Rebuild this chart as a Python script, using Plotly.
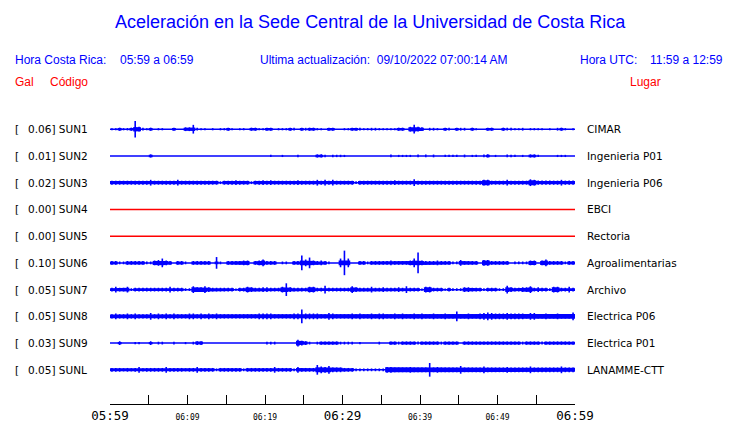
import plotly.graph_objects as go

# ---------------- data ----------------
stations = ["SUN1", "SUN2", "SUN3", "SUN4", "SUN5", "SUN6", "SUN7", "SUN8", "SUN9", "SUNL"]
peak_gal = ["0.06", "0.01", "0.02", "0.00", "0.00", "0.10", "0.05", "0.05", "0.03", "0.05"]
places = ["CIMAR", "Ingenieria P01", "Ingenieria P06", "EBCI", "Rectoria",
          "Agroalimentarias", "Archivo", "Electrica P06", "Electrica P01", "LANAMME-CTT"]
tick_minutes = [0, 10, 20, 30, 40, 50, 60]
tick_labels = ["05:59", "06:09", "06:19", "06:29", "06:39", "06:49", "06:59"]
minor_minutes = [5, 15, 25, 35, 45, 55]

# envelope (half amplitude, relative units) every 30 s, 05:59 -> 06:59
env_sun1 = [0.7, 0.7, 1.2, 0.7, 0.8, 1.2, 8, 2, 1, 0.7, 1.2, 0, 0.7, 0.7, 0, 0, 1.2, 0, 0, 1.5,
            1.5, 4, 1, 0.7, 0.7, 0, 0.7, 0, 0.7, 0.7, 1.2, 0.7, 0, 0.7, 0.7, 0, 1.2, 1.2, 0.7, 0.7,
            1.2, 1.2, 0, 0.7, 0.7, 0.7, 1.2, 1, 0, 1.2, 1, 1.2, 1.2, 0.7, 0.7, 0, 1.2, 1.2, 0, 0,
            0.7, 0.7, 1.2, 1.2, 1, 0.7, 0.7, 1, 1, 0.7, 0.7, 0.7, 0.7, 0.7, 1.2, 1.2, 0, 2, 4, 2,
            1.5, 0, 1, 1, 0.7, 0, 1.2, 1, 0, 1.2, 1, 1, 0, 1.2, 0.7, 0, 0, 1.2, 1.2, 0,
            0, 1.2, 1, 1, 0.7, 0.7, 1, 0, 0.7, 0.7, 0.7, 0.7, 0, 0.7, 0, 1, 1.2, 0.7, 0, 0.7]
env_sun2 = [0, 0, 0, 0, 0, 0, 0, 0, 0, 0, 1.2, 0, 0, 0, 0, 0, 0, 0, 0, 0,
            0, 0, 0, 0, 0, 0, 0, 0, 0, 0, 0, 0, 0, 0, 0, 0, 0, 0, 0, 0,
            0, 0.7, 0, 0, 0.7, 0, 0, 0, 0.8, 0, 0, 0, 0, 1.2, 1.2, 0.8, 0, 0.8, 0.8, 0.8,
            0.7, 0, 0, 0, 0, 0, 0, 0, 0, 0, 0, 0, 1, 0, 0.7, 0.7, 0.7, 0.7, 0, 1,
            0, 1, 0, 1, 0, 0, 0.7, 0.7, 0.7, 0.7, 0, 1, 0, 0.7, 0.7, 0, 1, 1.2, 0, 0.7,
            0, 0, 1, 0.8, 0.7, 0, 0.7, 0, 1.2, 1.2, 0.7, 0, 0, 0, 0, 0.7, 0.7, 0.7, 0, 0]
env_sun3 = [1.6, 1.6, 1.6, 1.6, 1.6, 1.6, 1.6, 1.6, 1.6, 1.6, 2.5, 1.6, 1.6, 1.6, 1.6, 1.6, 1.6, 2.5, 1.6, 1.6,
            1.6, 1.6, 1.6, 1.6, 1.6, 1.6, 1.6, 1.6, 1.0, 1.6, 1.6, 1.6, 2, 1.6, 1.6, 1.6, 1.0, 1.6, 1.6, 2,
            1.6, 2, 1.6, 1.6, 1.6, 1.6, 1.6, 1.6, 2, 1.6, 1.6, 1.6, 1.6, 2.5, 1.6, 2.5, 1.6, 2.5, 1.6, 1.6,
            1.6, 1.6, 1.6, 1.0, 1.6, 1.6, 1.6, 1.6, 1.6, 1.6, 1.6, 1.6, 1.6, 2, 1.6, 1.6, 1.6, 1.6, 3, 1.6,
            1.6, 1.6, 1.6, 1.6, 1.6, 1.6, 1.6, 1.6, 1.6, 1.6, 1.6, 1.6, 1.6, 1.6, 1.6, 1.6, 2.5, 2.5, 1.6, 1.6,
            1.6, 1.6, 2.5, 1.6, 1.6, 1.6, 1.6, 1.6, 3, 2.5, 1.7, 1.7, 1.7, 1.7, 1.7, 1.7, 2.5, 1.7, 1.7, 1.7]
env_sun4 = [0] * 120
env_sun5 = [0] * 120
env_sun6 = [1.5, 1.5, 1, 1, 1.5, 1.5, 1.5, 1.5, 1.5, 1, 1, 2, 2.5, 4, 2, 1.5, 0, 1.5, 1.5, 1,
            0, 1.5, 1.5, 1.5, 1.5, 1.5, 0, 5.5, 1, 0, 1.5, 1.5, 1.5, 1.5, 2, 2, 0, 1.5, 2, 3,
            1.5, 1.5, 1.5, 0, 1, 1, 0, 1.5, 1.5, 7, 3, 5, 2, 1.5, 2, 1.5, 1, 0, 0, 4,
            12, 4, 0, 0, 1.5, 1.5, 1, 1.5, 1.5, 1.5, 1.5, 1.5, 2, 1.5, 1.5, 1.5, 1.5, 2, 4, 10,
            2, 1.5, 1.5, 1.5, 2, 1.5, 1.5, 1.5, 1, 1, 2.5, 1.5, 1.5, 1.5, 1.5, 0, 2.5, 2.5, 1.5, 1.5,
            1.5, 1.5, 1.5, 0, 1, 1, 1, 1, 2, 2, 0, 2, 3, 1.5, 1.5, 1.5, 1.5, 1, 1.5, 1.5]
env_sun7 = [1.5, 2.5, 1.5, 1.5, 2.5, 1, 1.5, 1.5, 1.5, 1.5, 1.5, 1.5, 1.5, 1.5, 1.5, 2.5, 1.5, 1.5, 1.5, 1,
            1, 3, 2, 2, 3, 2, 1.5, 1.5, 1.5, 1.5, 1.5, 1.5, 0.7, 1.5, 1.5, 2.5, 2, 1.5, 1.5, 2,
            2, 1.5, 1.5, 1.5, 2.5, 6, 2, 1.5, 1.5, 1.5, 1.5, 2.5, 2.5, 1.5, 1.5, 3.5, 1.5, 1.5, 1.5, 1.5,
            1.5, 1.5, 3, 2, 1.5, 1.5, 1.5, 2.5, 1.5, 1.5, 2, 1.5, 1.5, 1.5, 2, 1.5, 3, 1.5, 1.5, 1.5,
            0.7, 2.5, 2.5, 1.5, 1.5, 1.5, 0.7, 1.5, 1, 1, 1, 2, 2, 1.5, 1.5, 1.5, 1, 1.5, 1.5, 1.5,
            1, 1, 3.5, 2, 1.5, 1.5, 2, 2, 3, 1.5, 2, 1.5, 1.5, 1, 2.5, 2.5, 1.5, 1.5, 2.5, 1.5]
env_sun8 = [1.8, 2.5, 1.8, 1.8, 2.5, 1.8, 2.5, 1.8, 1.8, 1.8, 3, 1.8, 2.5, 1.8, 2.5, 1.8, 2.5, 1.8, 1.8, 1.8,
            2.5, 2.5, 1.8, 2.5, 1.8, 2.5, 1.8, 2.5, 1.8, 1.8, 1.8, 1.8, 1.8, 1.8, 1.8, 1.8, 1.8, 1.8, 2.5, 2.5,
            2.5, 2.5, 1.8, 1.8, 1.8, 1.8, 1.8, 2.5, 2.5, 6.5, 2.5, 2.5, 2.5, 2.5, 1.8, 1.8, 3, 2.5, 1.8, 1.8,
            1.8, 1.8, 2.5, 1.8, 2.5, 1.8, 1.8, 2.5, 1.8, 2.5, 2.5, 1.8, 1.8, 2.5, 1.8, 2.5, 1.8, 1.8, 2.5, 1.8,
            2.5, 1.8, 1.8, 2.5, 1.8, 1.8, 2.5, 1.8, 1.8, 4.5, 1.8, 1.8, 2.5, 1.8, 1.8, 2.5, 3, 3.5, 3, 2.5,
            2.5, 2.5, 3, 2.5, 2.5, 2.5, 2.5, 1.8, 3, 3, 1.8, 1.8, 2.5, 1.8, 1.8, 2.5, 1.8, 1.8, 1.8, 3.5]
env_sun9 = [0, 0, 1.5, 0, 0, 0, 0.7, 0.7, 0, 0, 1.5, 0, 1, 1, 0, 0, 1, 0, 0, 0.7,
            0, 1, 1.5, 1.5, 0, 0, 0, 0, 0, 0, 0, 0, 0, 0, 0, 0, 0, 0, 0, 0,
            1, 1, 1, 0, 0, 0, 0, 0, 3, 2, 1.5, 1, 0, 1, 1.3, 1.3, 1.3, 1.3, 1.3, 1,
            1, 1, 1, 0, 0.7, 0, 0, 0, 0, 1, 0, 0, 1.3, 1.3, 1.1, 1.3, 1.3, 1.3, 1.3, 1.1,
            1.3, 1.3, 1.3, 1.3, 1.3, 1.1, 1.3, 1.3, 1.3, 1.3, 0, 1.3, 1.3, 1.3, 1.3, 1.3, 1.3, 1.3, 1.3, 1.3,
            1.3, 1.3, 1.3, 1.3, 1.3, 1.3, 1.1, 1.3, 1.3, 1.3, 1.3, 1.1, 1.3, 1.3, 1.3, 1.3, 1.3, 1.3, 1.3, 1.3]
env_sunl = [1.5, 1.5, 1.5, 1.2, 1.5, 1.2, 1.5, 2.5, 1.2, 1.5, 1.5, 1.5, 1.5, 1.5, 2.5, 1.5, 1.5, 1.5, 1.5, 1.2,
            1.5, 1.5, 2.5, 1.5, 1.5, 1.5, 1.5, 1, 1.5, 1.5, 1.5, 1.5, 1.5, 1.5, 1, 1.5, 1.5, 1.5, 1.5, 1.5,
            1.5, 1.5, 2.5, 1.5, 1.5, 1.5, 1.5, 1, 2.5, 1.5, 1.5, 1.5, 1.5, 4.5, 3, 2.5, 3.5, 2, 2, 2,
            1.5, 1.5, 1.5, 1, 1, 1, 1, 1, 1, 1, 1, 2.5, 2.5, 2, 2, 2, 2, 2.5, 2, 2,
            2, 2, 6.5, 2, 2.5, 2, 2, 2, 2, 2, 3.5, 2, 2, 2, 2, 2, 3, 2, 2, 2,
            2, 2, 2.5, 2, 2, 2, 2, 2, 3, 2, 2, 2, 2, 2, 2, 2, 3, 2, 2, 2]
envelopes = [env_sun1, env_sun2, env_sun3, env_sun4, env_sun5,
             env_sun6, env_sun7, env_sun8, env_sun9, env_sunl]
sample_step = 0.5  # minutes

# ---------------- layout constants ----------------
W, H = 740, 423
PL, PR = 110, 575          # plot x pixels
AXIS_Y = 408               # axis line pixel
ROW0, ROWSTEP = 130.5, 27
BLUE, RED = "#0000ff", "#ff0000"
DEJAVU = "DejaVu Sans"
MONO = "DejaVu Sans Mono"
SANS = "Liberation Sans, Arial, sans-serif"


def px_to_paper_x(px):
    return (px - PL) / (PR - PL)


def px_to_paper_y(py):
    return (AXIS_Y - py) / AXIS_Y


fig = go.Figure()

for k, env in enumerate(envelopes):
    base = ROW0 + k * ROWSTEP
    color = BLUE if any(v > 0 for v in env) else RED
    n = len(env)
    # baseline
    fig.add_trace(go.Scatter(x=[0, 60], y=[base, base], mode="lines",
                             line=dict(color=color, width=1.5), hoverinfo="skip"))
    # sustained band polygon (isolated peaks are left to the spike lines)
    top_x, top_y = [], []
    for i, a in enumerate(env):
        nb = max(env[max(i - 1, 0)], env[min(i + 1, n - 1)])
        b = min(a, nb + 0.3, 2.5)
        if b < 1.2:
            b = min(a, 1.2) if a >= 1.2 else 0
        x0, x1 = i * sample_step, (i + 1) * sample_step
        top_x += [x0, x1]
        top_y += [base - b, base - b]
    poly_x = top_x + top_x[::-1]
    poly_y = top_y + [2 * base - y for y in top_y[::-1]]
    fig.add_trace(go.Scatter(x=poly_x, y=poly_y, mode="lines", fill="toself",
                             fillcolor=color, line=dict(width=0, color=color),
                             hoverinfo="skip"))
    # spikes / ticks
    sx, sy = [], []
    for i, a in enumerate(env):
        if a > 0:
            xc = (i + 0.5) * sample_step
            h = a + 0.4
            sx += [xc, xc, None]
            sy += [base - h, base + h, None]
    if sx:
        fig.add_trace(go.Scatter(x=sx, y=sy, mode="lines",
                                 line=dict(color=color, width=1.6), hoverinfo="skip"))

annotations = []


def ann(text, px, py, size, color, family, anchor="left"):
    annotations.append(dict(text=text, x=px_to_paper_x(px), y=px_to_paper_y(py),
                            xref="paper", yref="paper",
                            xanchor=anchor, yanchor="middle", showarrow=False,
                            font=dict(size=size, color=color, family=family)))


ann("Aceleración en la Sede Central de la Universidad de Costa Rica", 370, 22.5, 18, BLUE, SANS, "center")
ann("Hora Costa Rica:", 13, 60.5, 12, BLUE, SANS)
ann("05:59 a 06:59", 118, 60.5, 12, BLUE, SANS)
ann("Ultima actualización:\u00a0\u00a009/10/2022 07:00:14 AM", 258, 60.5, 12, BLUE, SANS)
ann("Hora UTC:", 578, 60.5, 12, BLUE, SANS)
ann("11:59 a 12:59", 648, 60.5, 12, BLUE, SANS)
ann("Gal", 13, 82.5, 12, RED, SANS)
ann("Código", 48, 82.5, 12, RED, SANS)
ann("Lugar", 628, 82.5, 12, RED, SANS)

for k in range(len(stations)):
    y = ROW0 + k * ROWSTEP
    ann("[", 13, y, 10.5, "black", DEJAVU)
    ann(f"{peak_gal[k]}] {stations[k]}", 26, y, 10.5, "black", DEJAVU)
    ann(places[k], 585, y, 10.5, "black", DEJAVU)

fig.update_layout(annotations=annotations)

tickvals = sorted(tick_minutes + minor_minutes)
ticktext = []
for v in tickvals:
    if v in tick_minutes:
        lab = tick_labels[tick_minutes.index(v)]
        if v in (0, 30, 60):
            ticktext.append(lab)
        else:
            ticktext.append(f'<span style="font-size:8px">{lab}</span>')
    else:
        ticktext.append("")

fig.update_layout(
    width=W, height=H,
    margin=dict(l=PL, r=W - PR, t=0, b=H - AXIS_Y, pad=0),
    paper_bgcolor="white", plot_bgcolor="white",
    showlegend=False,
    xaxis=dict(range=[0, 60], tickmode="array", tickvals=tickvals, ticktext=ticktext,
               ticks="inside", ticklen=9, tickwidth=1, tickcolor="black",
               showline=True, linecolor="black", linewidth=1,
               showgrid=False, zeroline=False, fixedrange=True,
               tickfont=dict(family=MONO, size=12.5, color="black")),
    yaxis=dict(range=[AXIS_Y, 0], visible=False, fixedrange=True),
)

fig.write_html("out.html", config={"displayModeBar": False},
               post_script="document.body.style.margin='0';document.body.style.overflow='hidden';")
